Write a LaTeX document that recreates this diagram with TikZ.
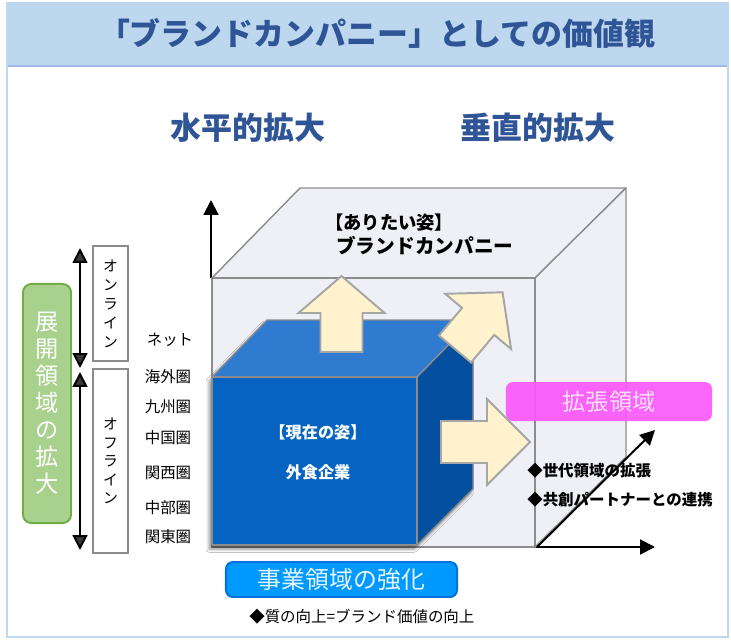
\documentclass[tikz,border=0pt]{standalone}
\usepackage{fontspec}
\setmainfont{Noto Sans CJK JP}
\usepackage{tikz}
\usetikzlibrary{arrows.meta, shadows.blur}

\definecolor{bandblue}{RGB}{189,215,238}
\definecolor{titleblue}{RGB}{47,85,151}
\definecolor{leafgreen}{RGB}{169,209,142}
\definecolor{edgegreen}{RGB}{112,173,71}
\definecolor{cream}{RGB}{255,242,204}
\definecolor{creamedge}{RGB}{166,166,166}
\definecolor{glass}{RGB}{237,239,244}
\definecolor{glassedge}{RGB}{140,140,140}
\definecolor{cubefront}{RGB}{5,99,193}
\definecolor{cubetop}{RGB}{46,123,208}
\definecolor{cubeside}{RGB}{4,79,158}
\definecolor{pinkbar}{RGB}{250,88,250}
\definecolor{skyblue}{RGB}{0,153,255}
\definecolor{skyedge}{RGB}{0,112,224}

\tikzset{
  axis/.style={line width=1.4pt, -{Triangle[length=10.5pt, width=10.5pt]}},
  span/.style={line width=1.4pt, {Triangle[length=10.5pt, width=10.5pt]}-{Triangle[length=10.5pt, width=10.5pt]}},
  heading/.style={font=\fontsize{22}{26}\selectfont\bfseries, text=titleblue},
  area/.style={font=\fontsize{11}{13}\selectfont, inner sep=0pt},
  channel/.style={draw=glassedge, line width=1.4pt, fill=white, minimum width=0.875cm, align=center},
  point/.style={font=\fontsize{11}{13}\selectfont\bfseries, inner sep=0pt, anchor=west},
  cream arrow/.style={draw=creamedge, line width=1.4pt, fill=cream, line join=miter},
  face/.style={draw=glassedge, line width=1pt, line join=round},
}

% block arrow: base point, angle, length, head length
\newcommand{\fatarrow}[4]{%
  \draw[cream arrow, shift={#1}, rotate=#2] (0,-21) -- ({#3-#4},-21) -- ({#3-#4},-43)
    -- (#3,0) -- ({#3-#4},43) -- ({#3-#4},21) -- (0,21) -- cycle;}

\begin{document}
\begin{tikzpicture}[x=0.025cm, y=-0.025cm]
  \useasboundingbox (0, 0) rectangle (731, 639);

  % frame and title band
  \fill[white] (7, 3) rectangle (728, 637);
  \fill[bandblue] (7, 3) rectangle (728, 65);
  \draw[bandblue!85!blue, line width=1pt] (7, 66) rectangle (728, 637);
  \draw[bandblue, line width=1.4pt] (7, 3) rectangle (728, 637);
  \node[font=\fontsize{22}{26}\selectfont\bfseries, text=titleblue] (title) at (377, 33) {「ブランドカンパニー」としての価値観};

  \node[heading] (horiz) at (248, 128) {水平的拡大};
  \node[heading] (vert) at (538, 128) {垂直的拡大};

  % axes
  \coordinate (o) at (211, 547);
  \coordinate (up) at (211, 200);
  \coordinate (xs) at (252, 547);
  \coordinate (xe) at (655, 547);
  \coordinate (ds) at (537, 547);
  \coordinate (de) at (655, 430);
  \draw[axis] (211, 278) -- (up);
  \draw[axis] (xs) -- (xe);

  % outer cube
  \draw[face, fill=glass, fill opacity=0.9] (212, 278) -- (300, 188) -- (626, 188) -- (535, 278) -- cycle;
  \draw[face, fill=glass, fill opacity=0.9] (535, 278) -- (626, 188) -- (626, 457) -- (535, 547) -- cycle;
  \draw[face, fill=glass, fill opacity=0.9] (212, 278) rectangle (535, 547);
  \draw[axis] (ds) -- (de);

  % inner cube
  \fill[cubefront, blur shadow={shadow xshift=-2pt, shadow yshift=-3pt, shadow blur steps=6, shadow opacity=45}]
    (212, 377) -- (267, 320) -- (473, 320) -- (473, 489) -- (417, 545) -- (212, 545) -- cycle;
  \draw[face, fill=cubetop] (212, 377) -- (267, 320) -- (473, 320) -- (417, 377) -- cycle;
  \draw[face, fill=cubeside] (417, 377) -- (473, 320) -- (473, 489) -- (417, 545) -- cycle;
  \draw[face, fill=cubefront] (212, 377) rectangle (417, 545);

  \fatarrow{(341.5, 352)}{90}{76}{37}
  \fatarrow{(455, 349)}{50}{74}{38}
  \fatarrow{(441, 442)}{0}{89}{43}

  \node[font=\fontsize{13}{15}\selectfont\bfseries, inner sep=0pt, anchor=west] (ideal) at (325, 223) {【ありたい姿】};
  \node[font=\fontsize{14}{16}\selectfont\bfseries, inner sep=0pt, anchor=west] (brand) at (336, 246) {ブランドカンパニー};
  \node[font=\fontsize{11.5}{13}\selectfont\bfseries, text=white] (now) at (318, 432) {【現在の姿】};
  \node[font=\fontsize{11.5}{13}\selectfont\bfseries, text=white] (gaishoku) at (318, 472) {外食企業};

  % left side
  \node[draw=edgegreen, line width=1.4pt, fill=leafgreen, rounded corners=6pt, minimum width=1.2cm, minimum height=5.975cm,
        align=center, text=white, font=\fontsize{16.5}{19.2}\selectfont] (expand) at (47, 403.5) {展\\開\\領\\域\\の\\拡\\大};
  \node[channel, minimum height=2.875cm, font=\fontsize{10.5}{13.5}\selectfont] (online) at (110.5, 303.5) {オ\\ン\\ラ\\イ\\ン};
  \node[channel, minimum height=4.6cm, font=\fontsize{10.5}{13.2}\selectfont] (offline) at (110.5, 461) {オ\\フ\\ラ\\イ\\ン};
  \coordinate (on1) at (80, 248);
  \coordinate (on2) at (80, 368);
  \coordinate (off1) at (80, 372);
  \coordinate (off2) at (80, 550);
  \draw[span] (on1) -- (on2);
  \draw[span] (off1) -- (off2);

  \node[area] (net) at (170, 340) {ネット};
  \node[area] (kaigai) at (168, 377) {海外圏};
  \node[area] (kyushu) at (168, 407) {九州圏};
  \node[area] (chugoku) at (168, 438) {中国圏};
  \node[area] (kansai) at (168, 473) {関西圏};
  \node[area] (chubu) at (168, 508) {中部圏};
  \node[area] (kanto) at (168, 537) {関東圏};

  % expansion labels
  \node[fill=pinkbar, fill opacity=0.92, text opacity=1, text=white!80!pinkbar, rounded corners=5pt,
        minimum width=5.15cm, minimum height=0.975cm, font=\fontsize{16.5}{18}\selectfont] (kakucho) at (609, 401.5) {拡張領域};
  \node[point] (sedai) at (527, 471) {◆世代領域の拡張};
  \node[point] (kyoso) at (527, 500) {◆共創パートナーとの連携};

  \node[draw=skyedge, line width=1.4pt, fill=skyblue, text=white!90!skyblue, rounded corners=5pt,
        minimum width=5.775cm, minimum height=0.875cm, font=\fontsize{17}{19}\selectfont] (kyoka) at (341.5, 579.5) {事業領域の強化};
  \node[font=\fontsize{11}{13}\selectfont, inner sep=0pt, anchor=west] (shitsu) at (249, 617) {◆質の向上=ブランド価値の向上};
\end{tikzpicture}
\end{document}
